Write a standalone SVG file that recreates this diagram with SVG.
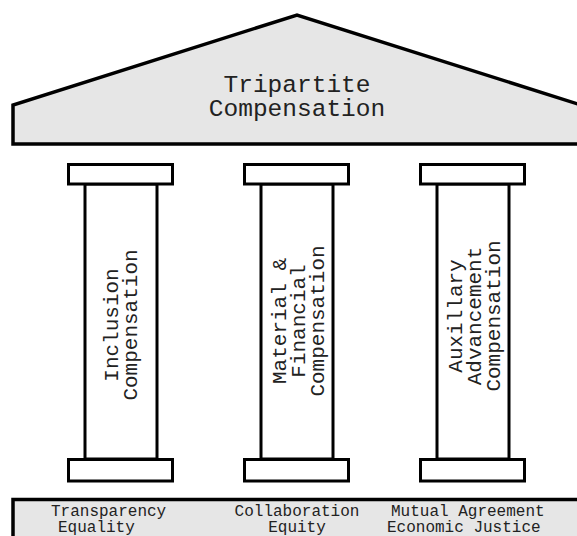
<svg xmlns="http://www.w3.org/2000/svg" width="577" height="536" viewBox="0 0 577 536">
  <style>
    .part { fill: #ffffff; stroke: #000000; stroke-width: 3; }
    .slab { fill: #e6e6e6; stroke: #000000; stroke-width: 3.5; stroke-linejoin: miter; }
    .txt { font-family: "Liberation Mono", "Courier New", monospace; fill: #222222; }
    .roof-t { font-size: 24.5px; text-anchor: middle; }
    .col-t { font-size: 21px; text-anchor: middle; }
    .base-t { font-size: 16px; }
  </style>

  <rect x="0" y="0" width="577" height="536" fill="#ffffff"/>

  <!-- roof -->
  <g id="roof">
    <polygon class="slab" points="13,144 13,105 297,15 581,105 581,144"/>
    <text class="txt roof-t" x="297" y="92">Tripartite</text>
    <text class="txt roof-t" x="297" y="116">Compensation</text>
  </g>

  <!-- left column -->
  <g id="pillar-inclusion">
    <rect class="part" x="85" y="184" width="72" height="275"/>
    <rect class="part" x="68.5" y="164.5" width="104" height="19.5"/>
    <rect class="part" x="68.5" y="459.5" width="104" height="21.5"/>
    <g transform="translate(121,325) rotate(-90)">
      <text class="txt col-t" x="0" y="-3">Inclusion</text>
      <text class="txt col-t" x="0" y="16">Compensation</text>
    </g>
  </g>

  <!-- middle column -->
  <g id="pillar-material">
    <rect class="part" x="261" y="184" width="72" height="275"/>
    <rect class="part" x="244.5" y="164.5" width="104" height="19.5"/>
    <rect class="part" x="244.5" y="459.5" width="104" height="21.5"/>
    <g transform="translate(297,321) rotate(-90)">
      <text class="txt col-t" x="0" y="-11">Material &amp;</text>
      <text class="txt col-t" x="0" y="8">Financial</text>
      <text class="txt col-t" x="0" y="27">Compensation</text>
    </g>
  </g>

  <!-- right column -->
  <g id="pillar-auxillary">
    <rect class="part" x="437" y="184" width="72" height="275"/>
    <rect class="part" x="420.5" y="164.5" width="104" height="19.5"/>
    <rect class="part" x="420.5" y="459.5" width="104" height="21.5"/>
    <g transform="translate(473,316) rotate(-90)">
      <text class="txt col-t" x="0" y="-11">Auxillary</text>
      <text class="txt col-t" x="0" y="8">Advancement</text>
      <text class="txt col-t" x="0" y="27">Compensation</text>
    </g>
  </g>

  <!-- foundation -->
  <g id="foundation">
    <rect class="slab" x="13" y="499.5" width="580" height="60"/>
    <text class="txt base-t" x="51" y="515.5">Transparency</text>
    <text class="txt base-t" x="58" y="531.5">Equality</text>
    <text class="txt base-t" x="297" y="515.5" text-anchor="middle">Collaboration</text>
    <text class="txt base-t" x="297" y="531.5" text-anchor="middle">Equity</text>
    <text class="txt base-t" x="391" y="515.5">Mutual Agreement</text>
    <text class="txt base-t" x="387" y="531.5">Economic Justice</text>
  </g>

  <g id="connectors"/>
</svg>
